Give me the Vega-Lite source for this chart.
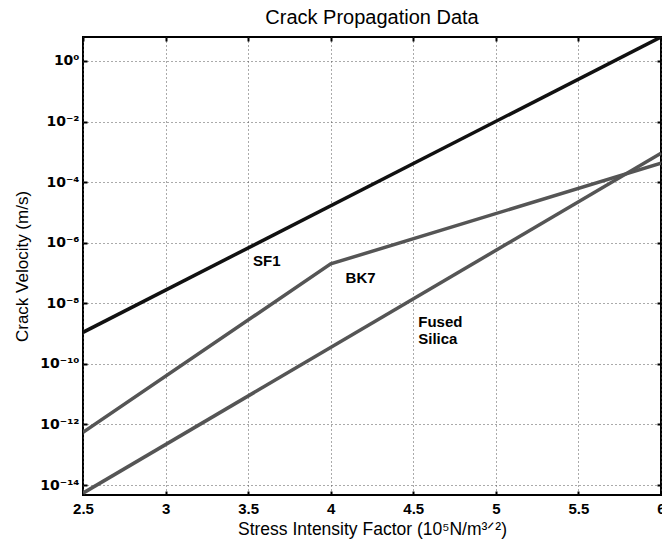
{
  "$schema": "https://vega.github.io/schema/vega-lite/v6.json",
  "width": 578,
  "height": 458,
  "autosize": {"type": "none"},
  "padding": {"left": 83, "top": 37, "right": 1, "bottom": 51},
  "background": "white",
  "title": {"text": "Crack Propagation Data", "font": "Liberation Sans", "fontSize": 20, "fontWeight": "normal", "color": "#000", "offset": 8},
  "config": {
    "view": {"stroke": "#000", "strokeWidth": 2},
    "axis": {"labelFont": "Liberation Sans", "titleFont": "Liberation Sans", "labelColor": "#000", "titleColor": "#000", "domain": false, "labelFlush": false, "labelOverlap": false}
  },
  "layer": [
    {
      "data": {"values": [
        {"K": 2.5, "v": 1.1e-9, "glass": "SF1"},
        {"K": 6.0, "v": 6.2, "glass": "SF1"},
        {"K": 2.5, "v": 5.5e-13, "glass": "BK7"},
        {"K": 4.0, "v": 2.0e-7, "glass": "BK7"},
        {"K": 6.0, "v": 4.2e-4, "glass": "BK7"},
        {"K": 2.5, "v": 5.4e-15, "glass": "Fused Silica"},
        {"K": 6.0, "v": 9.0e-4, "glass": "Fused Silica"}
      ]},
      "mark": {"type": "line", "strokeWidth": 3.5, "clip": true},
      "encoding": {
        "x": {"field": "K", "type": "quantitative", "scale": {"domain": [2.5, 6], "nice": false, "zero": false},
          "axis": {"orient": "bottom", "values": [2.5, 3, 3.5, 4, 4.5, 5, 5.5, 6], "format": "~g", "labelFontSize": 15, "labelFontWeight": "bold", "labelPadding": 10,
            "tickSize": -4, "tickWidth": 2, "tickColor": "#000", "grid": true, "gridDash": [1, 3], "gridColor": "#555", "gridWidth": 1,
            "title": "Stress Intensity Factor (10⁵N/m³ᐟ²)", "titleFontSize": 17.5, "titleFontWeight": "normal", "titlePadding": 4}},
        "y": {"field": "v", "type": "quantitative", "scale": {"type": "log", "domain": [4.68e-15, 6.2], "nice": false},
          "axis": {"orient": "left", "values": [1e-14, 1e-12, 1e-10, 1e-8, 1e-6, 1e-4, 1e-2, 1],
            "labelExpr": "['10⁻¹⁴','10⁻¹²','10⁻¹⁰','10⁻⁸','10⁻⁶','10⁻⁴','10⁻²','10⁰'][round(log(datum.value)/LN10/2)+7]",
            "labelFont": "DejaVu Sans", "labelFontSize": 14, "labelFontWeight": "bold", "labelPadding": 8,
            "tickSize": -4, "tickWidth": 2, "tickColor": "#000", "grid": true, "gridDash": [1, 3], "gridColor": "#555", "gridWidth": 1,
            "title": "Crack Velocity (m/s)", "titleFontSize": 17, "titleFontWeight": "normal", "titlePadding": 8}},
        "color": {"field": "glass", "type": "nominal", "scale": {"domain": ["SF1", "BK7", "Fused Silica"], "range": ["#111111", "#555555", "#555555"]}, "legend": null}
      }
    },
    {
      "data": {"values": [
        {"K": 3.53, "v": 2.4e-7, "label": "SF1"},
        {"K": 4.09, "v": 6.6e-8, "label": "BK7"},
        {"K": 4.53, "v": 2.5e-9, "label": "Fused"},
        {"K": 4.53, "v": 6.4e-10, "label": "Silica"}
      ]},
      "mark": {"type": "text", "align": "left", "baseline": "middle", "font": "Liberation Sans", "fontSize": 15, "fontWeight": "bold", "color": "#000"},
      "encoding": {
        "x": {"field": "K", "type": "quantitative",
          "axis": {"orient": "top", "values": [2.5, 3, 3.5, 4, 4.5, 5, 5.5, 6], "labels": false, "title": null, "tickSize": -4, "tickWidth": 2, "tickColor": "#000", "grid": false}},
        "y": {"field": "v", "type": "quantitative",
          "axis": {"orient": "right", "values": [1e-14, 1e-12, 1e-10, 1e-8, 1e-6, 1e-4, 1e-2, 1], "labels": false, "title": null, "tickSize": -4, "tickWidth": 2, "tickColor": "#000", "grid": false}},
        "text": {"field": "label", "type": "nominal"}
      }
    }
  ],
  "resolve": {"axis": {"x": "independent", "y": "independent"}}
}
